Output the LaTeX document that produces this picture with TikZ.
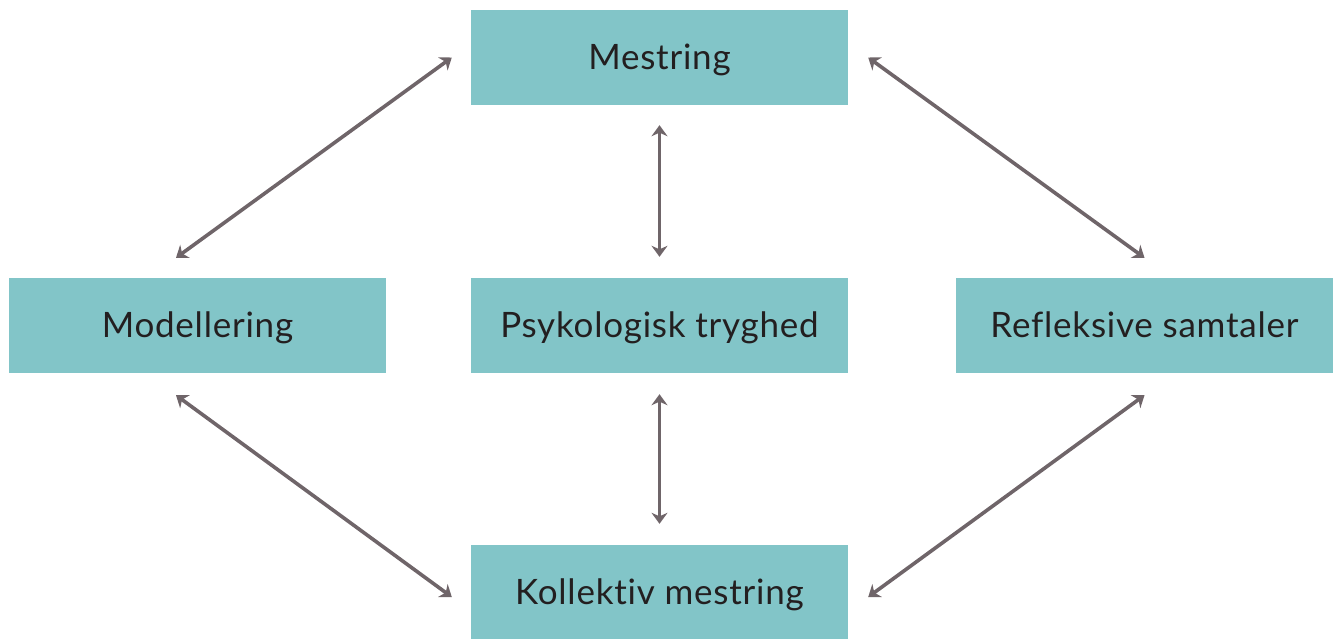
\documentclass[tikz,border=0pt]{standalone}
\usepackage{fontspec}
\setmainfont{Lato}[LetterSpace=2.2, Ligatures=NoCommon]
\usepackage{xcolor}
\usetikzlibrary{arrows.meta, calc, positioning}

\definecolor{boxteal}{HTML}{82C5C8}
\definecolor{linkgrey}{HTML}{6F6569}
\definecolor{textdark}{HTML}{231F20}

\tikzset{
    box/.style={rectangle, fill=boxteal, minimum width=377pt, minimum height=95pt, inner sep=0pt,
        text=textdark, text height=23pt, text depth=0pt, font=\fontsize{35}{41}\selectfont},
    link/.style={draw=linkgrey, line width=3.6pt, {Stealth[length=11pt,width=16pt,inset=3.5pt]}-{Stealth[length=11pt,width=16pt,inset=3.5pt]}}
}

\begin{document}
\begin{tikzpicture}[x=1pt, y=-1pt]
                        \useasboundingbox (0, 0) rectangle (1336, 638);
                        \node[box] (mes) at (659.5, 57.5) {Mestring};
                        \node[box] (mod) at (197.5, 325.5) {Modellering};
                        \node[box] (psy) at (659.5, 325.5) {Psykologisk tryghed};
                        \node[box] (ref) at (1144.5, 325.5) {Refleksive samtaler};
                        \node[box] (kol) at (659.5, 592.5) {Kollektiv mestring};

                        \draw
                        ([shift={(-21.5, -20)}]mod.north) edge[link] ([shift={(-19, 0)}]mes.west)
                        ([shift={(20, 0)}]mes.east) edge[link] ([shift={(0, -20)}]ref.north)
                        ([shift={(0, 20)}]mes.south) edge[link] ([shift={(0, -21)}]psy.north)
                        ([shift={(0, 21)}]psy.south) edge[link] ([shift={(0, -21)}]kol.north)
                        ([shift={(-21.5, 22)}]mod.south) edge[link] ([shift={(-19, 4.5)}]kol.west)
                        ([shift={(0, 22)}]ref.south) edge[link] ([shift={(20, 4.5)}]kol.east);
                    \end{tikzpicture}
\end{document}
